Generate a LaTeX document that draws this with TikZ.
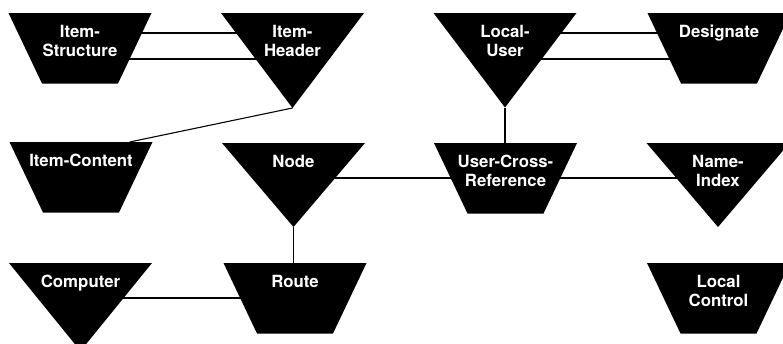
\documentclass[tikz,border=0pt]{standalone}
\usepackage{fontspec}
\setmainfont{TeX Gyre Heros}
\usetikzlibrary{calc}
\pgfdeclarelayer{background}
\pgfsetlayers{background,main}

% Label text, lines stacked with the first line as baseline
\newcommand\stacked[1]{\begin{tabular}[t]{@{}c@{}}#1\end{tabular}}
% Trapezoid entity: name, centre x, top y, label
\newcommand\trapbox[4]{%
  \fill[shapefill] ({#2-71.5},#3) -- ({#2+71.5},#3) -- ({#2+38},{#3+70.5}) -- ({#2-38},{#3+70.5}) -- cycle;
  \coordinate (#1-tl) at ({#2-71.5},#3);
  \coordinate (#1-tr) at ({#2+71.5},#3);
  \node[lbl] (#1) at (#2,{#3+24}) {\stacked{#4}};
}
% Inverted triangle entity: name, centre x, top y, height, label
\newcommand\tribox[5]{%
  \fill[shapefill] ({#2-71.5},#3) -- ({#2+71.5},#3) -- (#2,{#3+#4}) -- cycle;
  \coordinate (#1-apex) at (#2,{#3+#4});
  \node[lbl] (#1) at (#2,{#3+24}) {\stacked{#5}};
}

\begin{document}
\begin{tikzpicture}[x=1pt,y=-1pt,
  shapefill/.style={fill=black},
  lbl/.style={anchor=base,text=white,inner sep=0pt,
    font=\fontsize{16.8}{19.5}\selectfont\bfseries},
  link/.style={draw=black,line width=1.1pt}]
  \useasboundingbox (0,0) rectangle (783,343);
  \clip (0,0) rectangle (783,343);

  % top row
  \trapbox{IS}{80}{13}{Item-\\Structure}
  \tribox{IH}{292.5}{13}{95}{Item-\\Header}
  \tribox{LU}{505}{13}{94.5}{Local-\\User}
  \trapbox{DS}{719}{13}{Designate}
  % middle row
  \trapbox{IC}{81}{142}{Item-Content}
  \tribox{ND}{293.5}{143}{84}{Node}
  \trapbox{UX}{505.5}{143}{User-Cross-\\Reference}
  \tribox{NI}{718}{143}{84}{Name-\\Index}
  % bottom row
  \tribox{CP}{80.5}{263}{88}{Computer}
  \trapbox{RT}{295}{263}{Route}
  \trapbox{LC}{718.5}{263}{Local\\Control}

  % relationships, drawn behind the entities
  \begin{pgfonlayer}{background}
    \fill[white] (0,0) rectangle (783,343);
    \draw[link] (IS |- 0,33) -- (IH |- 0,33);
    \draw[link] (IS |- 0,59) -- (IH |- 0,59);
    \draw[link] (LU |- 0,33) -- (DS |- 0,33);
    \draw[link] (LU |- 0,59) -- (DS |- 0,59);
    \draw[link] (IH-apex) -- ($(IC-tl)!0.84!(IC-tr)$);
    \draw[link] (LU-apex) -- (LU-apex |- UX);
    \draw[link] (ND |- 0,178) -- (UX |- 0,178) -- (NI |- 0,178);
    \draw[link] (ND-apex) -- (ND-apex |- RT);
    \draw[link] (CP |- 0,298) -- (RT |- 0,298);
  \end{pgfonlayer}
\end{tikzpicture}
\end{document}
